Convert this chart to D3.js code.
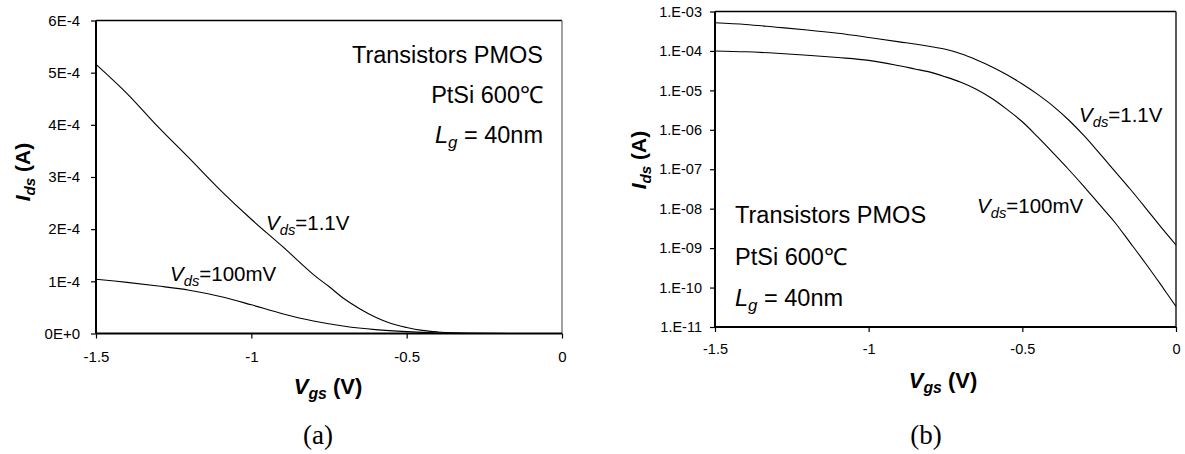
<!DOCTYPE html>
<html>
<head>
<meta charset="utf-8">
<script src="https://cdn.jsdelivr.net/npm/d3@7/dist/d3.min.js"></script>
<style>
  html, body { margin: 0; padding: 0; background: #fff; }
  svg { display: block; }
</style>
</head>
<body>
<svg id="chart" width="1185" height="454" font-family="Liberation Sans, Arial, sans-serif"></svg>
<script>
// ---------- data ----------
// (a) linear plot, Ids in units of 1E-4 A
const vgsLin = [-1.5, -1.4, -1.3, -1.2, -1.1, -1.0, -0.9, -0.8, -0.75, -0.7, -0.65, -0.6, -0.55, -0.5, -0.45, -0.4, -0.35, -0.3, 0];
const idsLinHigh = [5.16, 4.60, 3.96, 3.36, 2.75, 2.19, 1.67, 1.13, 0.90, 0.66, 0.47, 0.31, 0.19, 0.115, 0.06, 0.03, 0.012, 0.004, 0];
const vgsLinLow = [-1.5, -1.4, -1.3, -1.2, -1.1, -1.0, -0.9, -0.8, -0.7, -0.6, -0.5, -0.4, -0.3, 0];
const idsLinLow = [1.04, 0.98, 0.91, 0.83, 0.71, 0.55, 0.38, 0.24, 0.14, 0.075, 0.035, 0.01, 0.003, 0];
const linYTicks = [0, 1, 2, 3, 4, 5, 6];
const linYLabels = ["0E+0", "1E-4", "2E-4", "3E-4", "4E-4", "5E-4", "6E-4"];

// (b) log plot, Ids in A
const vgsLog = [-1.5, -1.4, -1.3, -1.2, -1.1, -1.0, -0.9, -0.85, -0.8, -0.75, -0.7, -0.65, -0.6, -0.55, -0.5, -0.45, -0.4, -0.35, -0.3, -0.25, -0.2, -0.15, -0.1, -0.05, 0];
const idsLogHigh = [5.2e-4, 4.7e-4, 4.0e-4, 3.4e-4, 2.8e-4, 2.2e-4, 1.7e-4, 1.5e-4, 1.3e-4, 1.1e-4, 8.5e-5, 6.0e-5, 4.0e-5, 2.5e-5, 1.45e-5, 7.9e-6, 4.0e-6, 1.8e-6, 7.2e-7, 2.6e-7, 9.1e-8, 3.2e-8, 1.07e-8, 3.5e-9, 1.2e-9];
const idsLogLow = [1.0e-4, 9.5e-5, 8.7e-5, 7.8e-5, 6.8e-5, 5.75e-5, 4.2e-5, 3.5e-5, 2.9e-5, 2.2e-5, 1.6e-5, 1.07e-5, 6.3e-6, 3.3e-6, 1.6e-6, 6.6e-7, 2.6e-7, 1.0e-7, 3.7e-8, 1.3e-8, 4.6e-9, 1.4e-9, 4.2e-10, 1.2e-10, 3.3e-11];
const logYTicks = [1e-3, 1e-4, 1e-5, 1e-6, 1e-7, 1e-8, 1e-9, 1e-10, 1e-11];
const logYLabels = ["1.E-03", "1.E-04", "1.E-05", "1.E-06", "1.E-07", "1.E-08", "1.E-09", "1.E-10", "1.E-11"];

const xTicks = [-1.5, -1, -0.5, 0];
const xLabels = ["-1.5", "-1", "-0.5", "0"];

const seriesNames = ["100mV", "1.1V"];
const annotLines = ["Transistors PMOS", "PtSi 600\u2103"];

// ---------- drawing ----------
const FONT = "Liberation Sans, Arial, sans-serif";
const svg = d3.select("#chart");
svg.append("rect").attr("width", 1185).attr("height", 454).attr("fill", "#fff");

function drawFrame(g, x, y, yTickVals, yTickLabels, logScale) {
  const [x0, x1] = x.range();
  const [yb, yt] = y.range();
  g.append("line").attr("x1", x0).attr("x2", x1).attr("y1", yt).attr("y2", yt).attr("stroke", "#000").attr("stroke-width", 1.3);
  g.append("line").attr("x1", x1).attr("x2", x1).attr("y1", yt).attr("y2", yb).attr("stroke", logScale ? "#000" : "#444").attr("stroke-width", logScale ? 1.3 : 1);

  const yAxis = d3.axisLeft(y).tickValues(yTickVals).tickSize(5).tickPadding(logScale ? 8 : 11)
    .tickFormat((d, i) => yTickLabels[i]);
  const ga = g.append("g").attr("transform", `translate(${x0},0)`).call(yAxis);
  const xAxis = d3.axisBottom(x).tickValues(xTicks).tickSize(5).tickPadding(logScale ? 12 : 13)
    .tickFormat((d, i) => xLabels[i]);
  const gb = g.append("g").attr("transform", `translate(0,${yb})`).call(xAxis);
  [ga, gb].forEach(a => {
    a.attr("font-family", FONT).attr("font-size", logScale ? 14.5 : 15);
    a.select(".domain").attr("stroke", "#000").attr("stroke-width", 2);
    a.selectAll(".tick line").attr("stroke", "#000").attr("stroke-width", 1.2);
    a.selectAll("text").attr("fill", "#000");
  });
  ga.select(".domain").attr("d", `M0,${yt}V${yb}`);
  gb.select(".domain").attr("d", `M${x0},0H${x1}`);
}

function subLabel(g, x, y, main, sub, rest, size, anchor, bold) {
  const t = g.append("text").attr("x", x).attr("y", y).attr("font-size", size)
    .attr("text-anchor", anchor || "start").attr("fill", "#000");
  if (bold) t.attr("font-weight", "bold");
  t.append("tspan").attr("font-style", "italic").text(main);
  t.append("tspan").attr("font-style", "italic").attr("font-size", size * 0.72).attr("dy", size * 0.22).text(sub);
  t.append("tspan").attr("dy", -size * 0.22).text(rest);
  return t;
}

function axisTitles(g, cx, cyBottom, lx, ly) {
  subLabel(g, cx, cyBottom, "V", "gs", " (V)", 22, "middle", true);
  const gy = g.append("g").attr("transform", `translate(${lx},${ly}) rotate(-90)`);
  subLabel(gy, 0, 0, "I", "ds", " (A)", 21, "middle", true);
}

const line = (x, y) => d3.line().x(d => x(d[0])).y(d => y(d[1])).curve(d3.curveCatmullRom.alpha(0.5));

// ---- (a) linear ----
const xa = d3.scaleLinear().domain([-1.5, 0]).range([96, 562]);
const ya = d3.scaleLinear().domain([0, 6]).range([333.5, 20.5]);
const ga = svg.append("g");
drawFrame(ga, xa, ya, linYTicks, linYLabels, false);
ga.append("path").datum(d3.zip(vgsLin, idsLinHigh)).attr("d", line(xa, ya))
  .attr("fill", "none").attr("stroke", "#000").attr("stroke-width", 1.1);
ga.append("path").datum(d3.zip(vgsLinLow, idsLinLow)).attr("d", line(xa, ya))
  .attr("fill", "none").attr("stroke", "#000").attr("stroke-width", 1.1);
ga.append("text").attr("x", 543).attr("y", 63).attr("font-size", 23.5).attr("text-anchor", "end").text(annotLines[0]);
ga.append("text").attr("x", 543).attr("y", 103).attr("font-size", 23.5).attr("text-anchor", "end").text(annotLines[1]);
subLabel(ga, 543, 143, "L", "g", " = 40nm", 23.5, "end");
subLabel(ga, 266, 230, "V", "ds", "=" + seriesNames[1], 20.5);
subLabel(ga, 170, 281, "V", "ds", "=" + seriesNames[0], 20.5);
axisTitles(ga, 328, 394, 30, 172);
ga.append("text").attr("x", 318).attr("y", 444).attr("font-size", 27).attr("text-anchor", "middle")
  .attr("font-family", "Liberation Serif, Times New Roman, serif").text("(a)");

// ---- (b) log ----
const xb = d3.scaleLinear().domain([-1.5, 0]).range([715, 1176]);
const yb = d3.scaleLog().domain([1e-11, 1e-3]).range([327, 11.5]);
const gbb = svg.append("g");
drawFrame(gbb, xb, yb, logYTicks, logYLabels, true);
gbb.append("path").datum(d3.zip(vgsLog, idsLogHigh)).attr("d", line(xb, yb))
  .attr("fill", "none").attr("stroke", "#000").attr("stroke-width", 1.1);
gbb.append("path").datum(d3.zip(vgsLog, idsLogLow)).attr("d", line(xb, yb))
  .attr("fill", "none").attr("stroke", "#000").attr("stroke-width", 1.1);
gbb.append("text").attr("x", 735).attr("y", 223).attr("font-size", 23.5).text(annotLines[0]);
gbb.append("text").attr("x", 735).attr("y", 265).attr("font-size", 23.5).text(annotLines[1]);
subLabel(gbb, 735, 306, "L", "g", " = 40nm", 23.5, "start");
subLabel(gbb, 1079, 122, "V", "ds", "=" + seriesNames[1], 20.5);
subLabel(gbb, 977, 213, "V", "ds", "=" + seriesNames[0], 20.5);
axisTitles(gbb, 943, 388, 646, 160);
gbb.append("text").attr("x", 926).attr("y", 444).attr("font-size", 27).attr("text-anchor", "middle")
  .attr("font-family", "Liberation Serif, Times New Roman, serif").text("(b)");
</script>
</body>
</html>
